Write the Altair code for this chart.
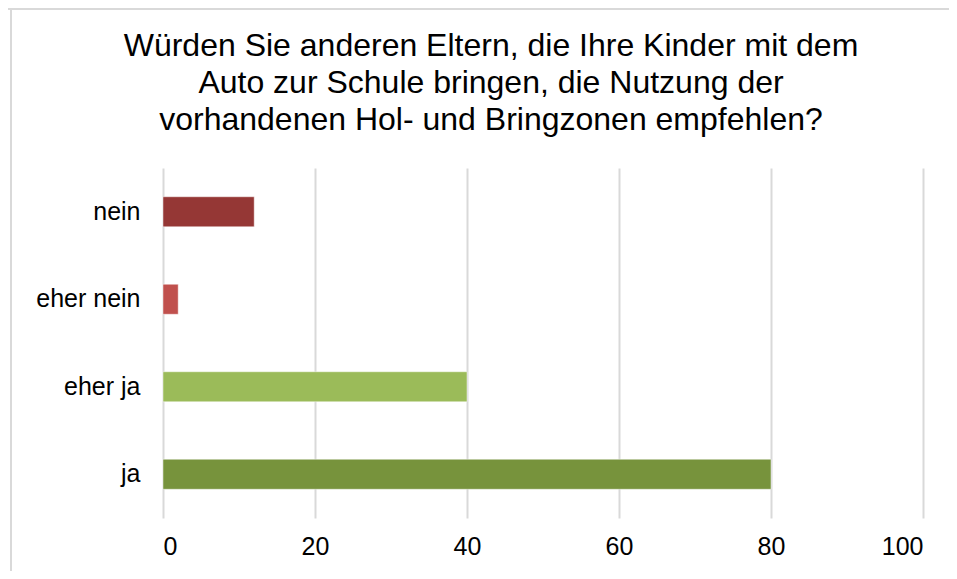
import altair as alt
import pandas as pd

categories = ["nein", "eher nein", "eher ja", "ja"]
values = [12, 2, 40, 80]
colors = ["#953735", "#C0504D", "#9BBB59", "#77933C"]
x_ticks = [0, 20, 40, 60, 80, 100]
title_lines = [
    "Würden Sie anderen Eltern, die Ihre Kinder mit dem",
    "Auto zur Schule bringen, die Nutzung der",
    "vorhandenen Hol- und Bringzonen empfehlen?",
]

FONT = "Liberation Sans"
GRID = "#d9d9d9"

df = pd.DataFrame({"Antwort": categories, "Wert": values})

bars = alt.Chart(df).mark_bar(size=30, stroke="white", strokeOpacity=0.45, strokeWidth=1).encode(
    x=alt.X(
        "Wert:Q",
        scale=alt.Scale(domain=[0, 100], nice=False),
        axis=alt.Axis(
            values=x_ticks, title=None, grid=True, gridColor=GRID, gridWidth=2,
            domain=False, ticks=False, labelFont=FONT, labelFontSize=25,
            labelColor="#000000", labelPadding=16,
        ),
    ),
    y=alt.Y(
        "Antwort:N",
        sort=categories,
        scale=alt.Scale(domain=categories, paddingInner=0, paddingOuter=0),
        axis=alt.Axis(
            title=None, domain=False, ticks=False, labelFont=FONT,
            labelFontSize=25, labelColor="#000000", labelPadding=23,
        ),
    ),
    color=alt.Color("Antwort:N", scale=alt.Scale(domain=categories, range=colors), legend=None),
)

frame_df = pd.DataFrame({"f": [0]})
frame_top = alt.Chart(frame_df).mark_rule(color=GRID, strokeWidth=2).encode(
    x=alt.value(-155), x2=alt.value(786), y=alt.value(-159)
)
frame_left = alt.Chart(frame_df).mark_rule(color=GRID, strokeWidth=2).encode(
    x=alt.value(-152), y=alt.value(-160), y2=alt.value(403)
)

chart = alt.layer(frame_top, frame_left, bars).properties(
    width=760,
    height=350,
    autosize=alt.AutoSizeParams(type="none"),
    padding={"left": 155, "top": 160, "right": 26, "bottom": 53},
    title=alt.Title(
        title_lines, font=FONT, fontSize=32, fontWeight="normal", color="#000000",
        anchor="middle", dx=-52, offset=-130, lineHeight=37,
    ),
).configure_view(stroke=None)

chart.save("out.html", embed_options={"renderer": "svg", "actions": False})
